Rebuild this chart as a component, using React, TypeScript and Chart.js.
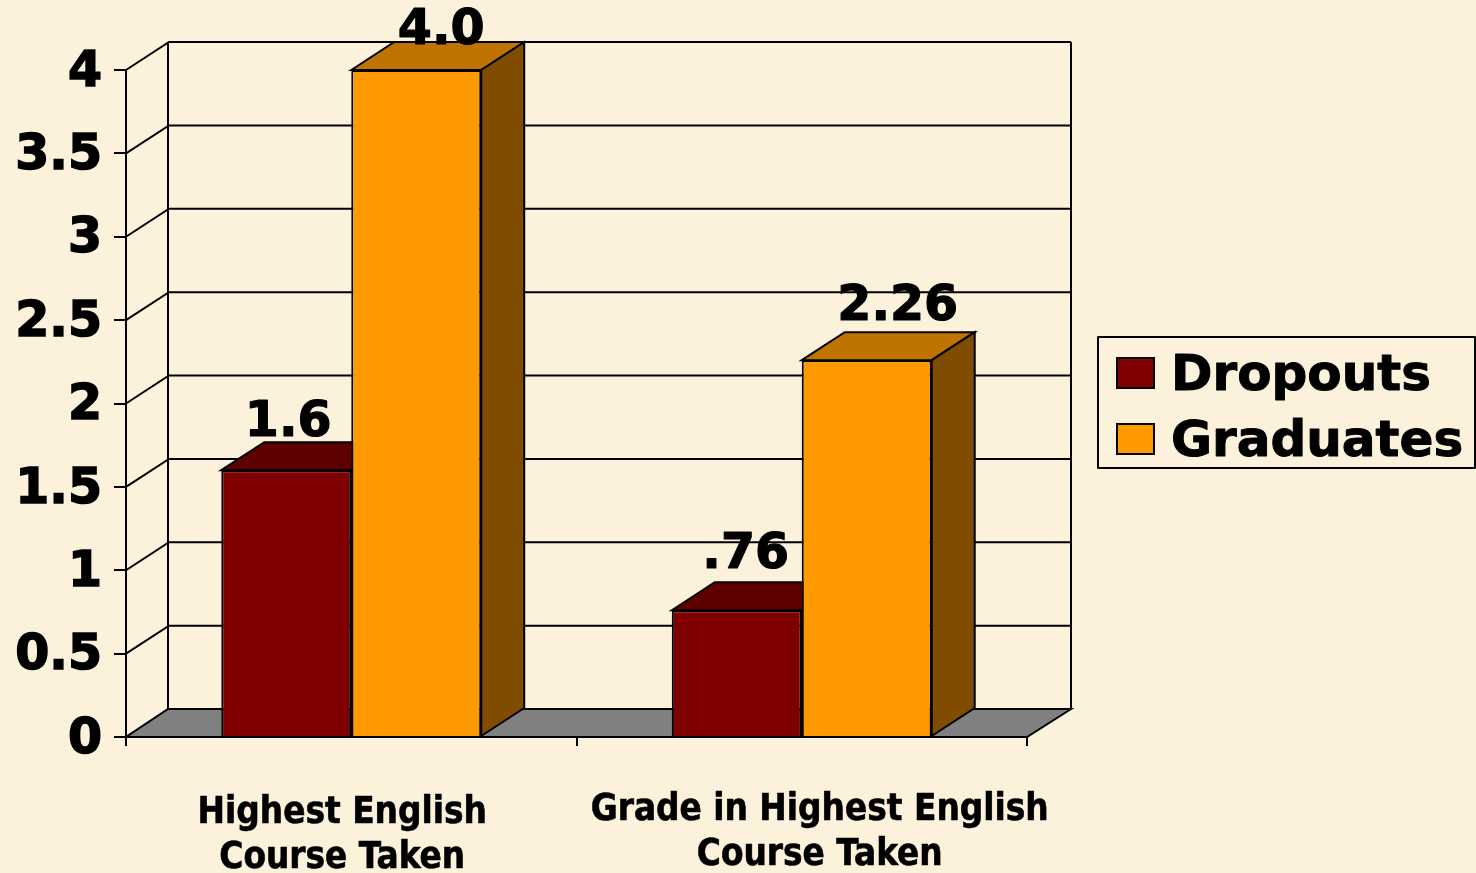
import React, { useEffect, useRef } from "react";
import { Chart, registerables } from "chart.js";

Chart.register(...registerables);

const categories = [["Highest English", "Course Taken"], ["Grade in Highest English", "Course Taken"]];
const dropouts = [1.6, 0.76];
const graduates = [4.0, 2.26];
const dropoutLabels = ["1.6", ".76"];
const graduateLabels = ["4.0", "2.26"];
const seriesNames = ["Dropouts", "Graduates"];
const yTicks = { min: 0, max: 4, step: 0.5 };

const BLACK = "#000000";
const FONT = '"DejaVu Sans", sans-serif';
const CAT_FONT = '"DejaVu Sans Condensed", "DejaVu Sans", sans-serif';
const DX = 43;
const DY = 28;
const palette = [
  { front: "#7f0000", top: "#5f0000", side: "#5f0000" },
  { front: "#ff9900", top: "#bf7300", side: "#7f4c00" },
];
// label nudges [dx, dy] relative to top of the bar front
const labelNudge = [
  [[2, -34], [9, -42]],
  [[25, -26], [31, -40]],
];
const catNudge = [[-9, 0], [18, -3]];

const poly = (ctx: CanvasRenderingContext2D, pts: number[][], fill?: string) => {
  ctx.beginPath();
  pts.forEach((p, i) => (i ? ctx.lineTo(p[0], p[1]) : ctx.moveTo(p[0], p[1])));
  ctx.closePath();
  if (fill) {
    ctx.fillStyle = fill;
    ctx.fill();
  }
  ctx.stroke();
};

const heavyText = (ctx: CanvasRenderingContext2D, s: string, x: number, y: number, w: number) => {
  ctx.lineWidth = w;
  ctx.strokeStyle = BLACK;
  ctx.lineJoin = "round";
  ctx.strokeText(s, x, y);
  ctx.fillText(s, x, y);
};

const threeD = {
  id: "threeD",
  beforeDraw(chart: any) {
    chart.scales.y.getLabelItems().forEach((it: any) => {
      if (!it.nudged) {
        it.textOffset += 3;
        it.nudged = true;
      }
    });
  },
  beforeDatasetsDraw(chart: any) {
    const { ctx, chartArea: a, scales } = chart;
    const y = scales.y;
    ctx.save();
    ctx.strokeStyle = BLACK;
    ctx.lineWidth = 2;
    ctx.lineJoin = "miter";
    y.ticks.forEach((t: any) => {
      const py = y.getPixelForValue(t.value);
      ctx.beginPath();
      ctx.moveTo(a.left, py);
      ctx.lineTo(a.left + DX, py - DY);
      ctx.lineTo(a.right + DX + 1, py - DY);
      ctx.stroke();
    });
    ctx.beginPath();
    ctx.moveTo(a.left + DX - 1, a.top - DY);
    ctx.lineTo(a.left + DX - 1, a.bottom - DY);
    ctx.moveTo(a.right + DX + 1, a.top - DY);
    ctx.lineTo(a.right + DX + 1, a.bottom - DY);
    ctx.stroke();
    poly(ctx, [
      [a.left, a.bottom],
      [a.left + DX - 1, a.bottom - DY],
      [a.right + DX + 1, a.bottom - DY],
      [a.right, a.bottom],
    ], "#808080");
    chart.data.datasets.forEach((_: any, di: number) => {
      const c = palette[di];
      chart.getDatasetMeta(di).data.forEach((bar: any) => {
        const p = bar.getProps(["x", "y", "base", "width"], true);
        const l = p.x - p.width / 2;
        const r = p.x + p.width / 2;
        poly(ctx, [[l, p.y], [l + DX, p.y - DY], [r + DX, p.y - DY], [r, p.y]], c.top);
        poly(ctx, [[r, p.y], [r + DX, p.y - DY], [r + DX, p.base - DY], [r, p.base]], c.side);
      });
    });
    ctx.restore();
  },
  afterDatasetsDraw(chart: any) {
    const { ctx, scales } = chart;
    ctx.save();
    ctx.fillStyle = BLACK;
    ctx.textAlign = "center";
    ctx.textBaseline = "alphabetic";
    ctx.font = `bold 49px ${FONT}`;
    [dropoutLabels, graduateLabels].forEach((labels, di) => {
      chart.getDatasetMeta(di).data.forEach((bar: any, i: number) => {
        const p = bar.getProps(["x", "y"], true);
        heavyText(ctx, labels[i], p.x + labelNudge[di][i][0], p.y + labelNudge[di][i][1], 1.2);
      });
    });
    // category labels
    ctx.font = `bold 36.5px ${CAT_FONT}`;
    categories.forEach((lines, i) => {
      const cx = scales.x.getPixelForValue(i) + catNudge[i][0];
      lines.forEach((line, k) => {
        heavyText(ctx, line, cx, scales.x.bottom - 136 + 86 + catNudge[i][1] + k * 45, 0.6);
      });
    });
    // legend
    ctx.textAlign = "left";
    ctx.font = `bold 50px ${FONT}`;
    ctx.strokeStyle = BLACK;
    ctx.lineWidth = 2;
    ctx.strokeRect(1098, 337, 377, 131);
    seriesNames.forEach((name, i) => {
      const top = 358 + i * 66;
      ctx.fillStyle = palette[i].front;
      ctx.lineWidth = 2;
      ctx.lineJoin = "miter";
      ctx.fillRect(1117, top, 37, 30);
      ctx.strokeRect(1117, top, 37, 30);
      ctx.fillStyle = BLACK;
      heavyText(ctx, name, 1171, top + 32, 1);
    });
    ctx.restore();
  },
};

export default function App() {
  const ref = useRef<HTMLCanvasElement>(null);
  useEffect(() => {
    document.body.style.margin = "0";
    const chart = new Chart(ref.current as HTMLCanvasElement, {
      type: "bar",
      data: {
        labels: categories.map((c) => c.join(" ")),
        datasets: [
          { label: seriesNames[0], data: dropouts, backgroundColor: palette[0].front, borderColor: BLACK, borderWidth: 2 },
          { label: seriesNames[1], data: graduates, backgroundColor: palette[1].front, borderColor: BLACK, borderWidth: 2 },
        ],
      },
      options: {
        responsive: false,
        animation: false,
        layout: { padding: { top: 70, right: 449, left: 0, bottom: 0 } },
        plugins: { legend: { display: false }, tooltip: { enabled: false } },
        datasets: { bar: { categoryPercentage: 0.577, barPercentage: 1 } },
        scales: {
          x: {
            afterFit: (s: any) => { s.height = 136; },
            ticks: { display: false },
            border: { color: BLACK, width: 2 },
            grid: { drawOnChartArea: false, color: BLACK, lineWidth: 2, tickLength: 9 },
          },
          y: {
            min: yTicks.min,
            max: yTicks.max,
            afterFit: (s: any) => { s.width = 126; },
            ticks: {
              stepSize: yTicks.step,
              color: BLACK,
              padding: 12,
              callback: (v: any) => String(v),
              textStrokeColor: BLACK,
              textStrokeWidth: 1.5,
              font: { family: FONT, weight: "bold", size: 49 },
            },
            border: { color: BLACK, width: 2 },
            grid: { drawOnChartArea: false, color: BLACK, lineWidth: 2, tickLength: 12 },
          },
        },
      } as any,
      plugins: [threeD],
    });
    return () => chart.destroy();
  }, []);
  return (
    <div style={{ position: "fixed", inset: 0, backgroundColor: "#fcf2dc" }}>
      <canvas ref={ref} width={1476} height={873} style={{ display: "block" }} />
    </div>
  );
}
